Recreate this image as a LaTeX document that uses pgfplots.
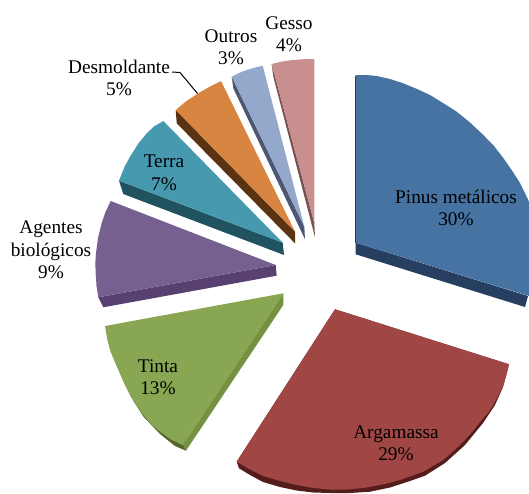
\documentclass[border=0pt]{standalone}
\usepackage{fontspec}
\setmainfont{Liberation Serif}
\usepackage{pgfplots}
\pgfplotsset{compat=1.18}
\definecolor{azulT}{RGB}{71,115,163}\definecolor{azulS}{RGB}{38,62,95}
\definecolor{vermT}{RGB}{160,70,68}\definecolor{vermS}{RGB}{84,28,27}
\definecolor{verdT}{RGB}{137,166,82}\definecolor{verdS}{RGB}{118,145,64}\definecolor{verdD}{RGB}{84,102,44}
\definecolor{roxoT}{RGB}{117,96,143}\definecolor{roxoS}{RGB}{88,65,112}
\definecolor{cianT}{RGB}{71,153,175}\definecolor{cianS}{RGB}{32,82,95}
\definecolor{laraT}{RGB}{215,133,64}\definecolor{laraS}{RGB}{90,52,18}
\definecolor{liluT}{RGB}{148,168,204}\definecolor{liluS}{RGB}{76,88,115}
\definecolor{rosaT}{RGB}{201,143,143}\definecolor{rosaS}{RGB}{122,82,82}
\tikzset{rot/.style={font=\fontsize{19.3}{22.5}\selectfont,align=center,text=black,inner sep=0pt}}
\begin{document}
\begin{tikzpicture}
\path[use as bounding box] (0,0) rectangle (529pt,493pt);
\begin{axis}[
  width=529pt,height=493pt,scale only axis,
  xmin=0,xmax=529,ymin=0,ymax=493,y dir=reverse,
  hide axis,clip=true,
]
% Pinus metalicos, 30%
\addplot[fill=azulS,draw=none] coordinates {(355.7,242.7)(528,296)(525,307)(355.7,254.3)};
\addplot[fill=azulT,draw=none] coordinates {(355.7,75)(366,75)(376.7,76)(390,79)(403.3,83.3)(417,89)(430,95)(443,103)(456.7,111.7)(470,122.5)(483.3,135)(494,146)(503.3,158)(512,170.5)(520,183)(528.3,200)(529,202)(529,296)(355.7,242.7)};
\addplot[color=azulS,line width=0.6pt] coordinates {(355.5,76)(355.5,243)};
% Argamassa, 29%
\addplot[fill=vermS,draw=none] coordinates {(236.7,461.7)(239,468.3)(250,475)(263,482)(280,487)(296.7,490.5)(313,492.5)(330,493)(350,493)(370,491.7)(390,487.5)(410,481)(425,475.7)(445,463)(465,445)(483,423)(495,405)(503,387)(509,364.3)(335,309.3)};
\addplot[fill=vermT,draw=none] coordinates {(335,309.3)(509,364.3)(506.5,375)(503.3,385)(498.5,395)(493.3,405)(488,413)(481.7,420)(473,431)(463.3,441.7)(453,451.5)(443.3,460)(433,466)(423.3,471.7)(410,476.5)(400,480)(386.7,483.5)(375,486)(363.3,488)(347,489.5)(330,489.5)(313,488)(296.7,485)(280,481)(263.3,476)(250,469.5)(236.7,461.7)};
% Tinta, 13%
\addplot[fill=verdD,draw=none] coordinates {(130,395)(136,405)(143.3,416.5)(160,434)(175,446)(186,450.7)(190,440)};
\addplot[fill=verdS,draw=none] coordinates {(283.3,293.3)(283.3,305)(186,450.7)(182.7,445)};
\addplot[fill=verdT,draw=none] coordinates {(283.3,293.3)(182.7,445)(171,439.5)(160,431.7)(151,424)(143.3,415)(136,405)(130,395)(124,383)(118.3,370)(114,360)(110,350)(107,338)(105,326)};
% Agentes biologicos, 9%
\addplot[fill=roxoS,draw=none] coordinates {(275.7,265)(276.7,275.7)(103.3,307.3)(98.3,297.3)};
\addplot[fill=roxoT,draw=none] coordinates {(275.7,265)(98.3,297.3)(96.5,286)(95.7,273)(95.3,263)(96,253)(98,238)(101.7,223)(105.5,212)(110.7,201)};
% Terra, 7%
\addplot[fill=cianS,draw=none] coordinates {(282.7,242.7)(284,255)(123.3,194)(119,180.7)};
\addplot[fill=cianT,draw=none] coordinates {(282.7,242.7)(119,180.7)(124,168)(130,156.7)(138,144)(146.7,133.3)(154,126.5)(163.3,121)};
% Desmoldante, 5%
\addplot[fill=laraS,draw=none] coordinates {(295,231.7)(295,243.3)(176.7,123.3)(175.7,110)};
\addplot[fill=laraT,draw=none] coordinates {(295,231.7)(175.7,110)(186.5,101)(198.3,93.3)(210,86.5)(221,81)};
% Outros, 3%
\addplot[fill=liluS,draw=none] coordinates {(304.3,226.7)(305,239.3)(233.3,88.3)(231.7,76.7)};
\addplot[fill=liluT,draw=none] coordinates {(304.3,226.7)(231.7,76.7)(239,73)(246.7,70)(255,67.5)(262.7,65.7)};
% Gesso, 4%
\addplot[fill=rosaS,draw=none] coordinates {(314.3,223)(315,237.3)(273.3,76.7)(271.7,64)};
\addplot[fill=rosaT,draw=none] coordinates {(314.3,223)(271.7,64)(282,61.5)(293,60)(304,59.2)(314.3,59)};
% Leader line of the Desmoldante label
\addplot[color=black,line width=1pt] coordinates {(172,72)(180,72.5)(197.5,93.5)};
\node[rot] at (axis cs:456,208) {Pinus metálicos\\30\%};
\node[rot] at (axis cs:396,443) {Argamassa\\29\%};
\node[rot] at (axis cs:158,377) {Tinta\\13\%};
\node[rot] at (axis cs:164,173) {Terra\\7\%};
\node[rot] at (axis cs:51,250) {Agentes\\biológicos\\9\%};
\node[rot] at (axis cs:119,78) {Desmoldante\\5\%};
\node[rot] at (axis cs:231,47) {Outros\\3\%};
\node[rot] at (axis cs:289,34) {Gesso\\4\%};
\end{axis}
\end{tikzpicture}
\end{document}
